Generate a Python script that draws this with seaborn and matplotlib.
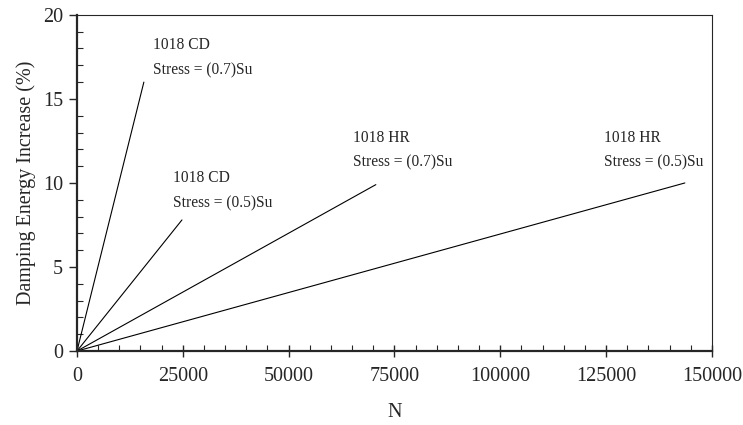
import pandas as pd
import matplotlib.pyplot as plt
import seaborn as sns
from matplotlib.ticker import MultipleLocator

# Lines start at origin and end at these points
series = ['1018 CD 0.7', '1018 CD 0.5', '1018 HR 0.7', '1018 HR 0.5']
end_n = [15800, 24800, 70600, 143600]
end_damping = [16.0, 7.8, 9.9, 10.0]

# Annotation labels and their positions (data coords)
label_titles = ['1018 CD', '1018 CD', '1018 HR', '1018 HR']
label_stress = ['Stress = (0.7)Su', 'Stress = (0.5)Su', 'Stress = (0.7)Su', 'Stress = (0.5)Su']
label_x = [17900, 22700, 65200, 124500]
label_y = [18.2, 10.3, 12.7, 12.7]

rows = []
for s, n, d in zip(series, end_n, end_damping):
    rows.append({'Series': s, 'N': 0, 'Damping': 0})
    rows.append({'Series': s, 'N': n, 'Damping': d})
df = pd.DataFrame(rows)

sns.set_style('ticks')
plt.rcParams['font.family'] = ['Liberation Serif', 'DejaVu Serif']

fig = plt.figure(figsize=(7.43, 4.25), dpi=100)
ax = fig.add_axes([0.1036, 0.174, 0.8546, 0.791])

sns.lineplot(data=df, x='N', y='Damping', units='Series', estimator=None,
             sort=False, color='black', linewidth=0.8, ax=ax)

for t, s, x, y in zip(label_titles, label_stress, label_x, label_y):
    ax.text(x, y, t, fontsize=11.2, va='center', ha='left')
    ax.text(x, y - 1.5, s, fontsize=11.2, va='center', ha='left')

ax.set_xlim(0, 150000)
ax.set_ylim(0, 20)
ax.xaxis.set_major_locator(MultipleLocator(25000))
ax.xaxis.set_minor_locator(MultipleLocator(5000))
ax.yaxis.set_major_locator(MultipleLocator(5))
ax.yaxis.set_minor_locator(MultipleLocator(1))

ax.tick_params(axis='x', which='major', direction='inout', length=9, width=1, labelsize=14.5, pad=7)
ax.tick_params(axis='x', which='minor', direction='in', length=4, width=0.8)
ax.tick_params(axis='y', which='major', direction='out', length=6, width=1, labelsize=14.5, pad=4)
ax.tick_params(axis='y', which='minor', direction='in', length=4, width=0.8)

ax.spines['left'].set_linewidth(1.6)
ax.spines['bottom'].set_linewidth(1.6)
ax.spines['top'].set_linewidth(0.8)
ax.spines['right'].set_linewidth(0.8)

ax.set_xlabel('N', fontsize=14.5, labelpad=12)
ax.set_ylabel('Damping Energy Increase (%)', fontsize=14.5, labelpad=5)

fig.savefig('out.png', dpi=100)
